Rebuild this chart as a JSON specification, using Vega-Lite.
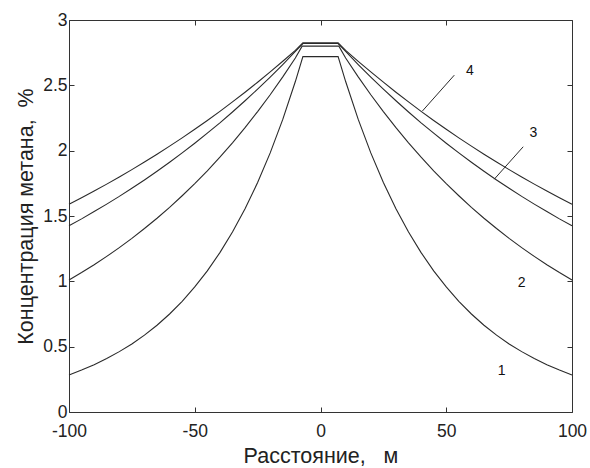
{
  "$schema": "https://vega.github.io/schema/vega-lite/v6.json",
  "width": 503,
  "height": 392,
  "autosize": "none",
  "padding": {"left": 69, "top": 20, "right": 18, "bottom": 56},
  "background": "white",
  "config": {
    "view": {"stroke": "#333", "strokeWidth": 1},
    "axis": {
      "domain": false,
      "grid": false,
      "tickColor": "#333",
      "tickSize": -5,
      "labelFlush": false,
      "labelOverlap": false,
      "labelFont": "Liberation Sans",
      "labelFontSize": 17.5,
      "labelColor": "#222",
      "labelExpr": "datum.value + ''",
      "titleFont": "Liberation Sans",
      "titleFontSize": 21.5,
      "titleFontWeight": "normal",
      "titleColor": "#222"
    }
  },
  "datasets": {
    "curves": [
      {"c":"1","x":-100,"y":0.284},{"c":"1","x":-95,"y":0.321},{"c":"1","x":-90,"y":0.362},{"c":"1","x":-85,"y":0.409},{"c":"1","x":-80,"y":0.462},{"c":"1","x":-75,"y":0.521},{"c":"1","x":-70,"y":0.588},{"c":"1","x":-65,"y":0.664},{"c":"1","x":-60,"y":0.750},{"c":"1","x":-55,"y":0.847},{"c":"1","x":-50,"y":0.957},{"c":"1","x":-45,"y":1.080},{"c":"1","x":-40,"y":1.220},{"c":"1","x":-35,"y":1.377},{"c":"1","x":-30,"y":1.555},{"c":"1","x":-25,"y":1.756},{"c":"1","x":-20,"y":1.983},{"c":"1","x":-15,"y":2.239},{"c":"1","x":-10,"y":2.529},{"c":"1","x":-7,"y":2.72},
      {"c":"1","x":7,"y":2.72},{"c":"1","x":10,"y":2.529},{"c":"1","x":15,"y":2.239},{"c":"1","x":20,"y":1.983},{"c":"1","x":25,"y":1.756},{"c":"1","x":30,"y":1.555},{"c":"1","x":35,"y":1.377},{"c":"1","x":40,"y":1.220},{"c":"1","x":45,"y":1.080},{"c":"1","x":50,"y":0.957},{"c":"1","x":55,"y":0.847},{"c":"1","x":60,"y":0.750},{"c":"1","x":65,"y":0.664},{"c":"1","x":70,"y":0.588},{"c":"1","x":75,"y":0.521},{"c":"1","x":80,"y":0.462},{"c":"1","x":85,"y":0.409},{"c":"1","x":90,"y":0.362},{"c":"1","x":95,"y":0.321},{"c":"1","x":100,"y":0.284},
      {"c":"2","x":-100,"y":1.010},{"c":"2","x":-95,"y":1.067},{"c":"2","x":-90,"y":1.127},{"c":"2","x":-85,"y":1.191},{"c":"2","x":-80,"y":1.258},{"c":"2","x":-75,"y":1.329},{"c":"2","x":-70,"y":1.404},{"c":"2","x":-65,"y":1.483},{"c":"2","x":-60,"y":1.566},{"c":"2","x":-55,"y":1.655},{"c":"2","x":-50,"y":1.748},{"c":"2","x":-45,"y":1.846},{"c":"2","x":-40,"y":1.950},{"c":"2","x":-35,"y":2.060},{"c":"2","x":-30,"y":2.176},{"c":"2","x":-25,"y":2.299},{"c":"2","x":-20,"y":2.428},{"c":"2","x":-15,"y":2.565},{"c":"2","x":-10,"y":2.709},{"c":"2","x":-7.3,"y":2.80},
      {"c":"2","x":7.3,"y":2.80},{"c":"2","x":10,"y":2.709},{"c":"2","x":15,"y":2.565},{"c":"2","x":20,"y":2.428},{"c":"2","x":25,"y":2.299},{"c":"2","x":30,"y":2.176},{"c":"2","x":35,"y":2.060},{"c":"2","x":40,"y":1.950},{"c":"2","x":45,"y":1.846},{"c":"2","x":50,"y":1.748},{"c":"2","x":55,"y":1.655},{"c":"2","x":60,"y":1.566},{"c":"2","x":65,"y":1.483},{"c":"2","x":70,"y":1.404},{"c":"2","x":75,"y":1.329},{"c":"2","x":80,"y":1.258},{"c":"2","x":85,"y":1.191},{"c":"2","x":90,"y":1.127},{"c":"2","x":95,"y":1.067},{"c":"2","x":100,"y":1.010},
      {"c":"3","x":-100,"y":1.425},{"c":"3","x":-95,"y":1.478},{"c":"3","x":-90,"y":1.534},{"c":"3","x":-85,"y":1.591},{"c":"3","x":-80,"y":1.650},{"c":"3","x":-75,"y":1.712},{"c":"3","x":-70,"y":1.776},{"c":"3","x":-65,"y":1.842},{"c":"3","x":-60,"y":1.911},{"c":"3","x":-55,"y":1.983},{"c":"3","x":-50,"y":2.057},{"c":"3","x":-45,"y":2.134},{"c":"3","x":-40,"y":2.213},{"c":"3","x":-35,"y":2.296},{"c":"3","x":-30,"y":2.382},{"c":"3","x":-25,"y":2.471},{"c":"3","x":-20,"y":2.563},{"c":"3","x":-15,"y":2.659},{"c":"3","x":-10,"y":2.759},{"c":"3","x":-7,"y":2.82},
      {"c":"3","x":7,"y":2.82},{"c":"3","x":10,"y":2.759},{"c":"3","x":15,"y":2.659},{"c":"3","x":20,"y":2.563},{"c":"3","x":25,"y":2.471},{"c":"3","x":30,"y":2.382},{"c":"3","x":35,"y":2.296},{"c":"3","x":40,"y":2.213},{"c":"3","x":45,"y":2.134},{"c":"3","x":50,"y":2.057},{"c":"3","x":55,"y":1.983},{"c":"3","x":60,"y":1.911},{"c":"3","x":65,"y":1.842},{"c":"3","x":70,"y":1.776},{"c":"3","x":75,"y":1.712},{"c":"3","x":80,"y":1.650},{"c":"3","x":85,"y":1.591},{"c":"3","x":90,"y":1.534},{"c":"3","x":95,"y":1.478},{"c":"3","x":100,"y":1.425},
      {"c":"4","x":-100,"y":1.590},{"c":"4","x":-95,"y":1.640},{"c":"4","x":-90,"y":1.691},{"c":"4","x":-85,"y":1.744},{"c":"4","x":-80,"y":1.799},{"c":"4","x":-75,"y":1.855},{"c":"4","x":-70,"y":1.913},{"c":"4","x":-65,"y":1.973},{"c":"4","x":-60,"y":2.035},{"c":"4","x":-55,"y":2.098},{"c":"4","x":-50,"y":2.164},{"c":"4","x":-45,"y":2.231},{"c":"4","x":-40,"y":2.301},{"c":"4","x":-35,"y":2.373},{"c":"4","x":-30,"y":2.447},{"c":"4","x":-25,"y":2.524},{"c":"4","x":-20,"y":2.603},{"c":"4","x":-15,"y":2.684},{"c":"4","x":-10,"y":2.768},{"c":"4","x":-7,"y":2.825},
      {"c":"4","x":7,"y":2.825},{"c":"4","x":10,"y":2.768},{"c":"4","x":15,"y":2.684},{"c":"4","x":20,"y":2.603},{"c":"4","x":25,"y":2.524},{"c":"4","x":30,"y":2.447},{"c":"4","x":35,"y":2.373},{"c":"4","x":40,"y":2.301},{"c":"4","x":45,"y":2.231},{"c":"4","x":50,"y":2.164},{"c":"4","x":55,"y":2.098},{"c":"4","x":60,"y":2.035},{"c":"4","x":65,"y":1.973},{"c":"4","x":70,"y":1.913},{"c":"4","x":75,"y":1.855},{"c":"4","x":80,"y":1.799},{"c":"4","x":85,"y":1.744},{"c":"4","x":90,"y":1.691},{"c":"4","x":95,"y":1.640},{"c":"4","x":100,"y":1.590}
    ],
    "leaders": [
      {"c":"4","x":53.2,"y":2.578,"x2":40.5,"y2":2.303},
      {"c":"3","x":80.6,"y":2.03,"x2":69.1,"y2":1.782}
    ],
    "labels": [
      {"t":"4","x":59.4,"y":2.611},
      {"t":"3","x":84.6,"y":2.137},
      {"t":"2","x":80.0,"y":0.985},
      {"t":"1","x":72.0,"y":0.316}
    ]
  },
  "resolve": {"axis": {"x": "independent", "y": "independent"}},
  "layer": [
    {
      "data": {"name": "curves"},
      "mark": {"type": "line", "color": "#2a2a2a", "strokeWidth": 1.1},
      "encoding": {
        "x": {"field": "x", "type": "quantitative", "scale": {"domain": [-100, 100], "nice": false},
              "axis": {"values": [-100, -50, 0, 50, 100], "title": "Расстояние,\u00a0\u00a0\u00a0м", "labelPadding": 15, "titlePadding": 6}},
        "y": {"field": "y", "type": "quantitative", "scale": {"domain": [0, 3], "nice": false},
              "axis": {"values": [0, 0.5, 1, 1.5, 2, 2.5, 3], "title": "Концентрация метана,\u00a0\u00a0%", "labelPadding": 7, "titlePadding": 5}},
        "detail": {"field": "c"}
      }
    },
    {
      "data": {"name": "leaders"},
      "mark": {"type": "rule", "color": "#2a2a2a", "strokeWidth": 1},
      "encoding": {
        "x": {"field": "x", "type": "quantitative", "axis": {"orient": "top", "values": [-100, -50, 0, 50, 100], "labels": false, "title": null}},
        "y": {"field": "y", "type": "quantitative", "axis": {"orient": "right", "values": [0, 0.5, 1, 1.5, 2, 2.5, 3], "labels": false, "title": null}},
        "x2": {"field": "x2"},
        "y2": {"field": "y2"}
      }
    },
    {
      "data": {"name": "labels"},
      "mark": {"type": "text", "font": "Liberation Sans", "fontSize": 14, "color": "#111", "align": "center", "baseline": "middle"},
      "encoding": {
        "x": {"field": "x", "type": "quantitative", "axis": null},
        "y": {"field": "y", "type": "quantitative", "axis": null},
        "text": {"field": "t"}
      }
    }
  ]
}
